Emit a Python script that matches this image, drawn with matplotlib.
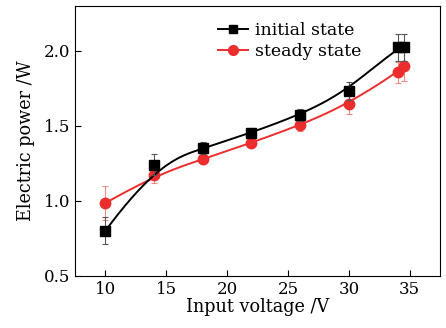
import matplotlib
matplotlib.use("Agg")
import matplotlib.pyplot as plt
import numpy as np

plt.rcParams["font.family"] = ["DejaVu Serif"]
plt.rcParams["mathtext.fontset"] = "dejavuserif"

voltage = [10, 14, 18, 22, 26, 30, 34, 34.5]
initial_power = [0.80, 1.24, 1.35, 1.455, 1.575, 1.735, 2.025, 2.025]
initial_err = [0.09, 0.07, 0.04, 0.03, 0.04, 0.06, 0.09, 0.09]
steady_power = [0.985, 1.17, 1.277, 1.388, 1.505, 1.646, 1.857, 1.90]
steady_err = [0.115, 0.05, 0.03, 0.03, 0.04, 0.07, 0.07, 0.10]


def bspline(xs, ys, n=300):
    # clamped uniform cubic B-spline using data points as control points
    pts = np.column_stack([xs, ys]).astype(float)
    k = 3
    m = len(pts)
    knots = np.concatenate([np.zeros(k), np.linspace(0, 1, m - k + 1), np.ones(k)])
    t = np.linspace(0, 1 - 1e-9, n)

    def basis(i, p, u):
        if p == 0:
            return ((knots[i] <= u) & (u < knots[i + 1])).astype(float)
        a = 0.0
        if knots[i + p] != knots[i]:
            a = (u - knots[i]) / (knots[i + p] - knots[i]) * basis(i, p - 1, u)
        b = 0.0
        if knots[i + p + 1] != knots[i + 1]:
            b = (knots[i + p + 1] - u) / (knots[i + p + 1] - knots[i + 1]) * basis(i + 1, p - 1, u)
        return a + b

    curve = np.zeros((n, 2))
    for i in range(m):
        curve += basis(i, k, t)[:, None] * pts[i]
    curve = np.vstack([curve, pts[-1]])
    return curve[:, 0], curve[:, 1]


red = "#ec2d2d"

fig = plt.figure(figsize=(4.46, 3.28), dpi=100)
ax = fig.add_axes([0.168, 0.159, 0.819, 0.823])

bx, by = bspline(voltage, initial_power)
rx, ry = bspline(voltage, steady_power)

ax.plot(rx, ry, color=red, lw=1.4, zorder=2)
ax.errorbar(voltage, steady_power, yerr=steady_err, fmt="none", ecolor="#f08c80",
            elinewidth=0.8, capsize=2.5, capthick=0.8, zorder=2)
ax.plot(voltage, steady_power, "o", color=red, ms=7.5, zorder=3)

ax.plot(bx, by, color="black", lw=1.4, zorder=4)
ax.errorbar(voltage, initial_power, yerr=initial_err, fmt="none", ecolor="#555555",
            elinewidth=0.8, capsize=2.5, capthick=0.8, zorder=4)
ax.plot(voltage, initial_power, "s", color="black", ms=6.5, zorder=5)

ax.plot([], [], "-s", color="black", ms=6, lw=1.4, label="initial state")
ax.plot([], [], "-o", color=red, ms=7, lw=1.4, label="steady state")
ax.legend(loc="upper left", bbox_to_anchor=(0.355, 0.99), frameon=False, fontsize=12.5,
          handlelength=1.7, handletextpad=0.4, labelspacing=0.2, borderaxespad=0.4)

ax.set_xlim(7.5, 37.5)
ax.set_ylim(0.5, 2.3)
ax.set_xticks([10, 15, 20, 25, 30, 35])
ax.set_yticks([0.5, 1.0, 1.5, 2.0])
ax.set_yticklabels(["0.5", "1.0", "1.5", "2.0"])
ax.tick_params(direction="in", length=4, labelsize=12, top=False, right=False)
ax.set_xlabel("Input voltage /V", fontsize=12.7, labelpad=0)
ax.set_ylabel("Electric power /W", fontsize=12.7, labelpad=6)

fig.savefig("out.png", dpi=100)
